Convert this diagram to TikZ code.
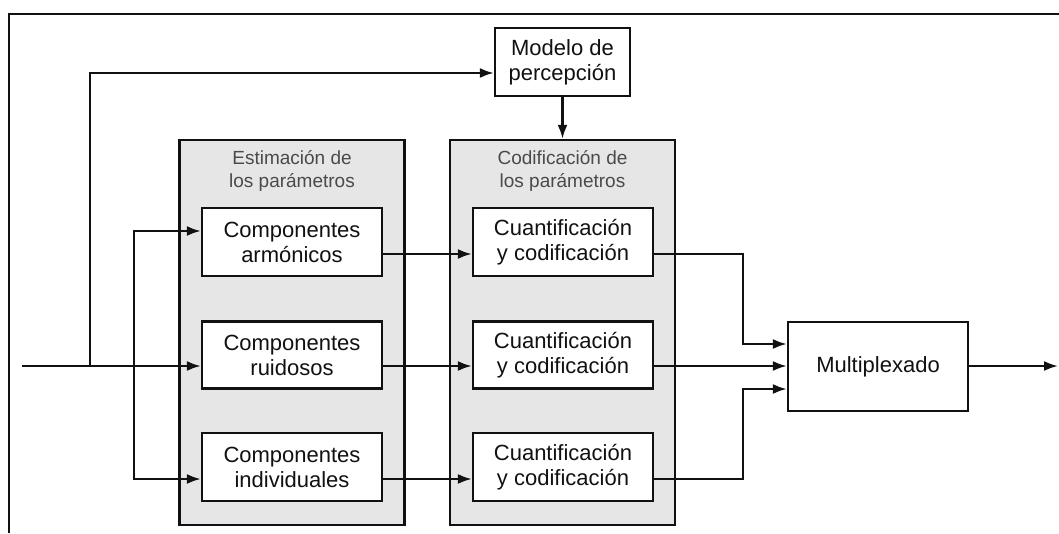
\documentclass[tikz,border=0pt]{standalone}
\usepackage{fontspec}
\setmainfont{Liberation Sans}
\usetikzlibrary{arrows.meta}
\definecolor{grpfill}{HTML}{E6E6E6}
\definecolor{ttl}{HTML}{4A4A4A}
\definecolor{ln}{HTML}{111111}
\begin{document}
\begin{tikzpicture}[x=1pt,y=-1pt,
  line width=2.3pt,
  arr/.style={draw=ln,-{Latex[length=14pt,width=10pt]}},
  blk/.style={draw=ln,fill=white,inner sep=0pt,align=center,text=ln,font=\fontsize{22}{25}\selectfont},
  grp/.style={draw=ln,fill=grpfill,inner sep=0pt,minimum width=225pt,minimum height=385pt},
  grptitle/.style={align=center,text=ttl,font=\fontsize{19}{23}\selectfont,inner sep=0pt}]
\useasboundingbox (0,0) rectangle (1059,533);
% frame
\draw[line width=2.6pt,ln] (1059,14) -- (9,14) -- (9,533);
% groups
\node[grp] (grpE) at (292,332.5) {};
\node[grp] (grpC) at (562.5,332.5) {};
\node[grptitle] (tE) at (292,171) {Estimación de\\los parámetros};
\node[grptitle] (tC) at (562.5,171) {Codificación de\\los parámetros};
% blocks
\node[blk,minimum width=135pt,minimum height=68pt] (modelo) at (562.5,62) {Modelo de\\percepción};
\node[blk,minimum width=180pt,minimum height=68pt] (c1) at (292,242) {Componentes\\armónicos};
\node[blk,minimum width=180pt,minimum height=67pt] (c2) at (292,355) {Componentes\\ruidosos};
\node[blk,minimum width=180pt,minimum height=68pt] (c3) at (292,467) {Componentes\\individuales};
\node[blk,minimum width=180pt,minimum height=68pt] (q1) at (563,242) {Cuantificación\\y codificación};
\node[blk,minimum width=180pt,minimum height=67pt] (q2) at (563,355) {Cuantificación\\y codificación};
\node[blk,minimum width=180pt,minimum height=68pt] (q3) at (563,467) {Cuantificación\\y codificación};
\node[blk,minimum width=180pt,minimum height=89pt] (mux) at (878,366.5) {Multiplexado};
% coordinates
\coordinate (in) at (22,366);
\coordinate (j1) at (90,366);
\coordinate (j2) at (134,366);
\coordinate (ym) at (0,73);
\coordinate (r1) at (0,231);
\coordinate (s1) at (0,254);
\coordinate (r3) at (0,479);
\coordinate (k) at (743,0);
\coordinate (m1) at (0,344);
\coordinate (m3) at (0,389);
\coordinate (out) at (1058,366);
% connectors
\draw[arr] (in) -- (c2.west |- in);
\draw[arr] (j1) |- (modelo.west |- ym);
\draw[arr] (j2) |- (c1.west |- r1);
\draw[arr] (j2) |- (c3.west |- r3);
\draw[arr] (modelo.south) -- (grpC.north);
\draw[arr] (c1.east |- s1) -- (q1.west |- s1);
\draw[arr] (c2.east |- in) -- (q2.west |- in);
\draw[arr] (c3.east |- r3) -- (q3.west |- r3);
\draw[arr] (q1.east |- s1) -| (k |- m1) -- (mux.west |- m1);
\draw[arr] (q2.east |- in) -- (mux.west |- in);
\draw[arr] (q3.east |- r3) -| (k |- m3) -- (mux.west |- m3);
\draw[arr] (mux.east |- in) -- (out);
\end{tikzpicture}
\end{document}
